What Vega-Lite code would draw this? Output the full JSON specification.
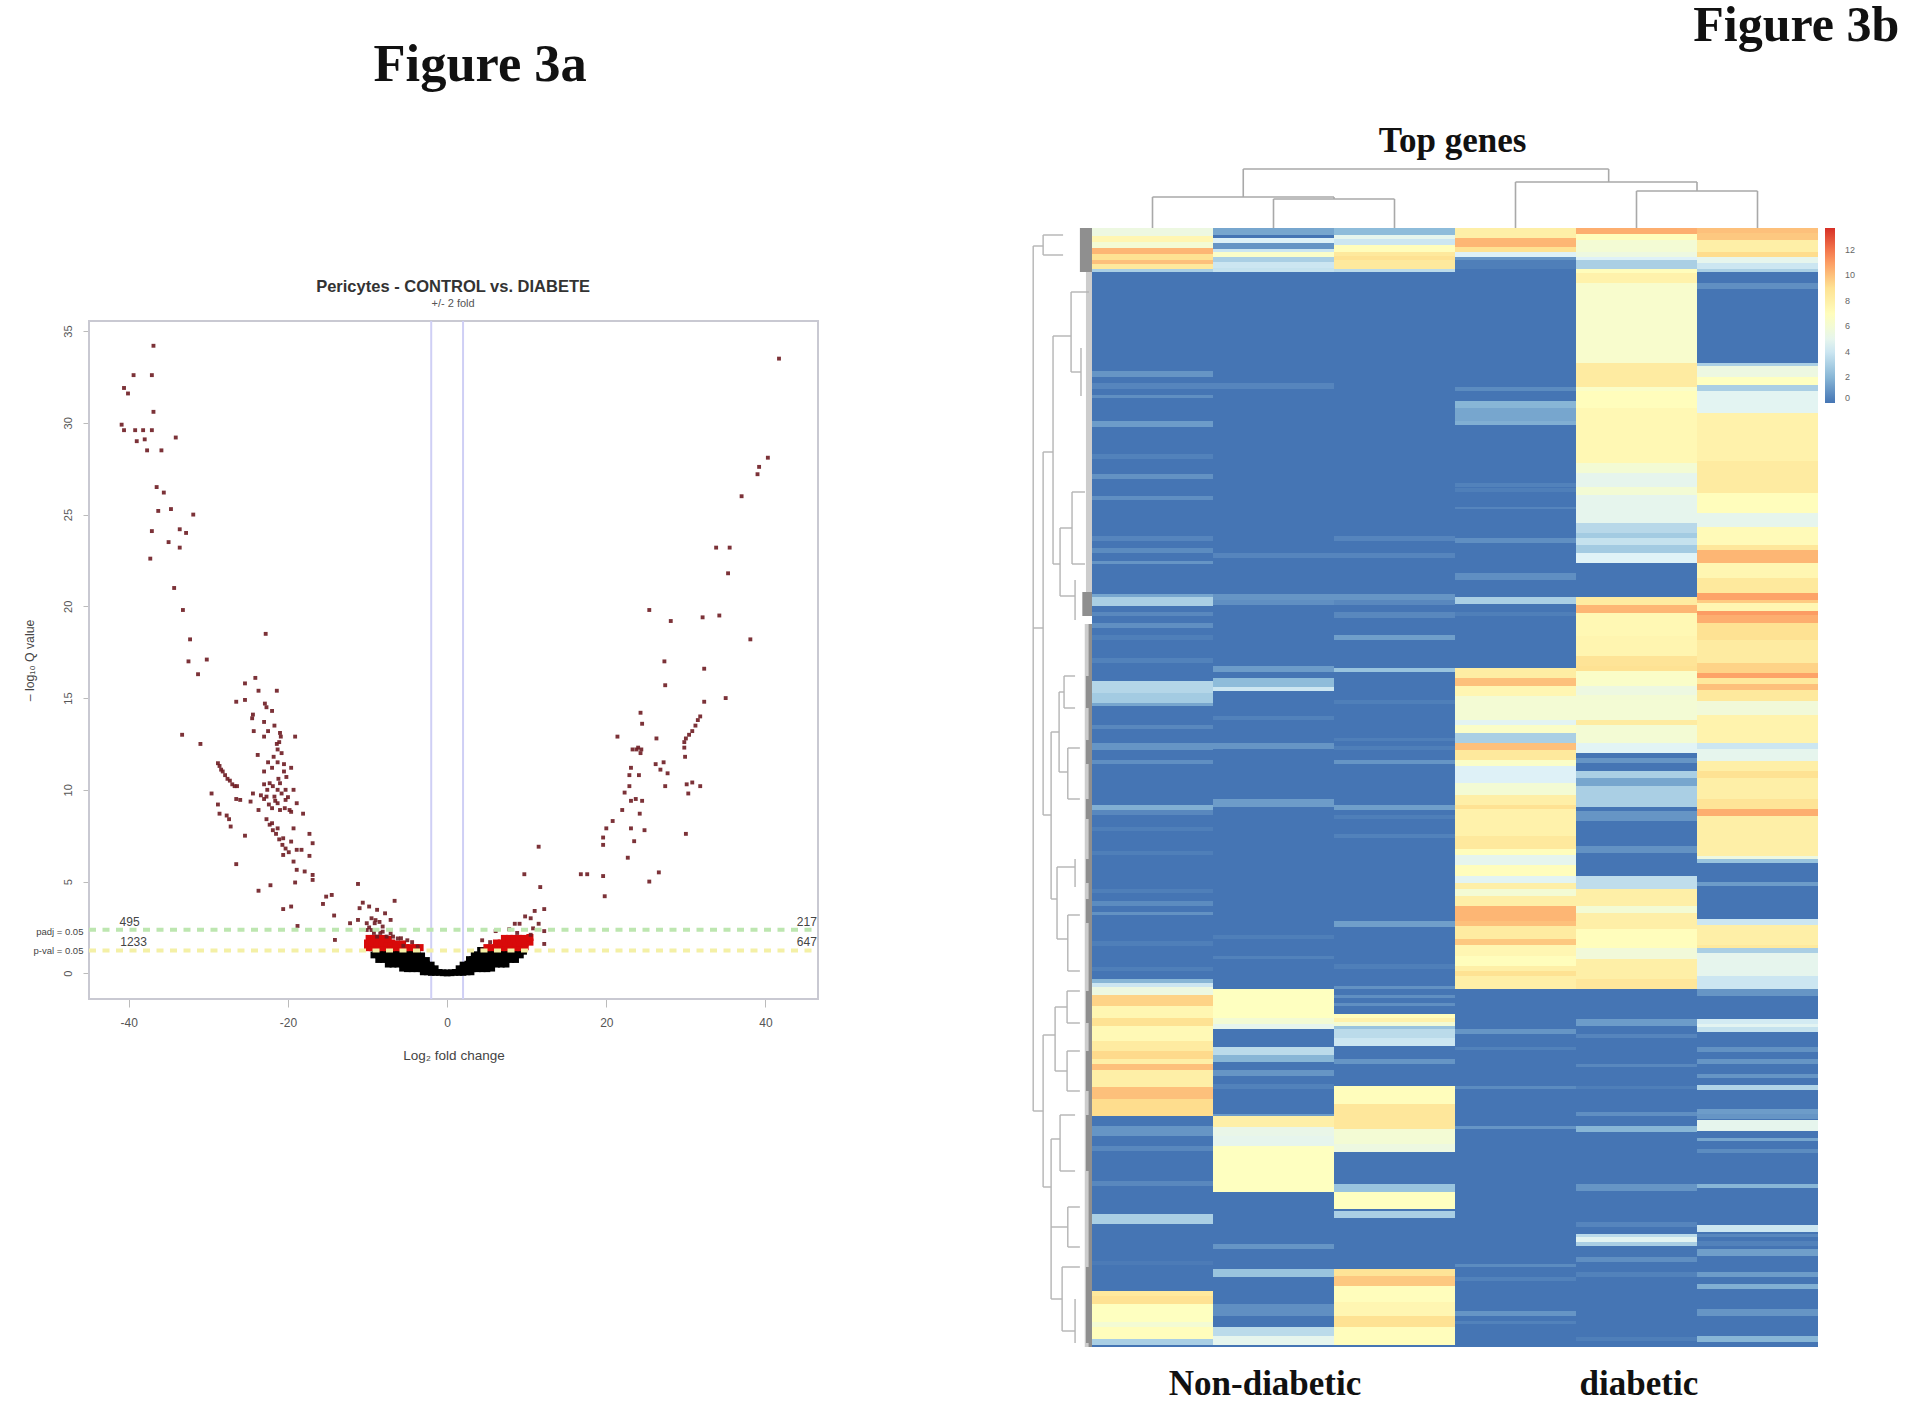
{"$schema":"https://vega.github.io/schema/vega-lite/v6.json","width":1920,"height":1405,"padding":0,"autosize":{"type":"none"},"background":"white","config":{"view":{"stroke":null},"font":"Liberation Sans"},
"datasets":{
"ns":[{"x":-9,"y":1.25},{"x":-8.4,"y":1.25},{"x":-7.8,"y":1.25},{"x":-7.2,"y":1.25},{"x":-6.6,"y":1.25},{"x":-6,"y":1.25},{"x":-5.4,"y":1.25},{"x":-4.8,"y":1.25},{"x":-4.2,"y":1.25},{"x":-3.8,"y":1.2},{"x":-9.2,"y":1},{"x":-8.6,"y":1},{"x":-8,"y":1},{"x":-7.4,"y":1},{"x":-6.8,"y":1},{"x":-6.2,"y":1},{"x":-5.6,"y":1},{"x":-5,"y":1},{"x":-4.4,"y":1},{"x":-3.8,"y":1},{"x":-3.2,"y":0.95},{"x":-8.6,"y":0.75},{"x":-8,"y":0.75},{"x":-7.4,"y":0.75},{"x":-6.8,"y":0.75},{"x":-6.2,"y":0.75},{"x":-5.6,"y":0.75},{"x":-5,"y":0.75},{"x":-4.4,"y":0.75},{"x":-3.8,"y":0.75},{"x":-3.2,"y":0.75},{"x":-2.6,"y":0.7},{"x":-7.4,"y":0.5},{"x":-6.8,"y":0.5},{"x":-6.2,"y":0.5},{"x":-5.6,"y":0.5},{"x":-5,"y":0.5},{"x":-4.4,"y":0.5},{"x":-3.8,"y":0.5},{"x":-3.2,"y":0.5},{"x":-2.6,"y":0.5},{"x":-2,"y":0.45},{"x":-5.6,"y":0.28},{"x":-5,"y":0.25},{"x":-4.4,"y":0.25},{"x":-3.8,"y":0.25},{"x":-3.2,"y":0.25},{"x":-2.6,"y":0.25},{"x":-2,"y":0.25},{"x":-1.5,"y":0.25},{"x":-3,"y":0.08},{"x":-2.5,"y":0.08},{"x":-2,"y":0.05},{"x":-1.5,"y":0.05},{"x":-1,"y":0.05},{"x":-0.5,"y":0.03},{"x":0,"y":0.02},{"x":0.5,"y":0.03},{"x":1,"y":0.05},{"x":1.5,"y":0.05},{"x":2,"y":0.05},{"x":2.5,"y":0.08},{"x":3,"y":0.08},{"x":1.5,"y":0.25},{"x":2,"y":0.25},{"x":2.6,"y":0.25},{"x":3.2,"y":0.25},{"x":3.8,"y":0.25},{"x":4.4,"y":0.25},{"x":5,"y":0.25},{"x":5.6,"y":0.28},{"x":2,"y":0.45},{"x":2.6,"y":0.5},{"x":3.2,"y":0.5},{"x":3.8,"y":0.5},{"x":4.4,"y":0.5},{"x":5,"y":0.5},{"x":5.6,"y":0.5},{"x":6.2,"y":0.5},{"x":6.8,"y":0.5},{"x":7.4,"y":0.5},{"x":2.8,"y":0.75},{"x":3.2,"y":0.75},{"x":3.8,"y":0.75},{"x":4.4,"y":0.75},{"x":5,"y":0.75},{"x":5.6,"y":0.75},{"x":6.2,"y":0.75},{"x":6.8,"y":0.75},{"x":7.4,"y":0.75},{"x":8,"y":0.75},{"x":8.6,"y":0.75},{"x":3.4,"y":1},{"x":3.8,"y":1},{"x":4.4,"y":1},{"x":5,"y":1},{"x":5.6,"y":1},{"x":6.2,"y":1},{"x":6.8,"y":1},{"x":7.4,"y":1},{"x":8,"y":1},{"x":8.6,"y":1},{"x":9.2,"y":1},{"x":4.2,"y":1.25},{"x":4.8,"y":1.25},{"x":5.4,"y":1.25},{"x":6,"y":1.25},{"x":6.6,"y":1.25},{"x":7.2,"y":1.25},{"x":7.8,"y":1.25},{"x":8.4,"y":1.25},{"x":9,"y":1.25},{"x":9.6,"y":1.2}],
"red":[{"x":-10,"y":1.4},{"x":-9.4,"y":1.4},{"x":-8.8,"y":1.4},{"x":-8.2,"y":1.4},{"x":-7.6,"y":1.4},{"x":-7,"y":1.4},{"x":-6.4,"y":1.4},{"x":-5.8,"y":1.4},{"x":-5.2,"y":1.4},{"x":-4.6,"y":1.4},{"x":-4,"y":1.4},{"x":-3.4,"y":1.4},{"x":-10,"y":1.65},{"x":-9.4,"y":1.65},{"x":-8.8,"y":1.65},{"x":-8.2,"y":1.65},{"x":-7.6,"y":1.65},{"x":-7,"y":1.65},{"x":-6.4,"y":1.6},{"x":-5.6,"y":1.6},{"x":-9.8,"y":1.9},{"x":-9.2,"y":1.9},{"x":-8.6,"y":1.9},{"x":-8,"y":1.9},{"x":-7.4,"y":1.85},{"x":5,"y":1.4},{"x":5.6,"y":1.4},{"x":6.2,"y":1.4},{"x":6.8,"y":1.4},{"x":7.4,"y":1.4},{"x":8,"y":1.4},{"x":8.6,"y":1.4},{"x":9.2,"y":1.4},{"x":9.8,"y":1.45},{"x":6.2,"y":1.65},{"x":6.8,"y":1.65},{"x":7.4,"y":1.65},{"x":8,"y":1.65},{"x":8.6,"y":1.65},{"x":9.2,"y":1.65},{"x":9.8,"y":1.65},{"x":10.4,"y":1.7},{"x":7.2,"y":1.9},{"x":7.8,"y":1.9},{"x":8.4,"y":1.9},{"x":9,"y":1.9},{"x":9.6,"y":1.9},{"x":10.4,"y":1.95}],
"sig":[{"x":-36.9,"y":34.2},{"x":-39.4,"y":32.6},{"x":-37.1,"y":32.6},{"x":-40.6,"y":31.9},{"x":-40.1,"y":31.6},{"x":-36.9,"y":30.6},{"x":-40.9,"y":29.9},{"x":-40.6,"y":29.6},{"x":-39.2,"y":29.6},{"x":-38.2,"y":29.6},{"x":-37.1,"y":29.6},{"x":-34.1,"y":29.2},{"x":-39,"y":29},{"x":-38,"y":29.1},{"x":-37.7,"y":28.5},{"x":-35.9,"y":28.5},{"x":-36.5,"y":26.5},{"x":-35.6,"y":26.2},{"x":-36.3,"y":25.2},{"x":-34.7,"y":25.3},{"x":-31.9,"y":25},{"x":-37.1,"y":24.1},{"x":-33.6,"y":24.2},{"x":-32.8,"y":24},{"x":-35,"y":23.5},{"x":-33.6,"y":23.2},{"x":-37.3,"y":22.6},{"x":-34.3,"y":21},{"x":-33.2,"y":19.8},{"x":-32.3,"y":18.2},{"x":-32.5,"y":17},{"x":-30.2,"y":17.1},{"x":-31.3,"y":16.3},{"x":-22.8,"y":18.5},{"x":-24.1,"y":16.1},{"x":-25.4,"y":15.8},{"x":-23.7,"y":15.4},{"x":-21.4,"y":15.4},{"x":-26.5,"y":14.8},{"x":-25.4,"y":14.9},{"x":-22.9,"y":14.7},{"x":-22.7,"y":14.5},{"x":-22,"y":14.3},{"x":-24.4,"y":14.1},{"x":-24.5,"y":13.9},{"x":-23,"y":13.7},{"x":-21.7,"y":13.5},{"x":-24.3,"y":13.2},{"x":-22.5,"y":13.2},{"x":-21,"y":13.1},{"x":-19.1,"y":12.9},{"x":-23,"y":12.9},{"x":-21.1,"y":12.6},{"x":-33.3,"y":13},{"x":-31,"y":12.5},{"x":-21.3,"y":12.2},{"x":-23.8,"y":11.9},{"x":-21.8,"y":11.8},{"x":-21.3,"y":11.5},{"x":-22,"y":11.2},{"x":-20.5,"y":11.4},{"x":-19.6,"y":11.2},{"x":-20.5,"y":11},{"x":-20.8,"y":12},{"x":-21.4,"y":12.5},{"x":-20.9,"y":12.9},{"x":-20.2,"y":10.7},{"x":-23,"y":11},{"x":-22.5,"y":11.5},{"x":-28.8,"y":11.45},{"x":-28.6,"y":11.3},{"x":-28.4,"y":11.1},{"x":-28.2,"y":11},{"x":-27.9,"y":10.8},{"x":-27.6,"y":10.6},{"x":-27.3,"y":10.5},{"x":-27,"y":10.3},{"x":-26.7,"y":10.2},{"x":-26.4,"y":10.2},{"x":-29.6,"y":9.8},{"x":-28.8,"y":9.2},{"x":-28.6,"y":8.7},{"x":-27.7,"y":8.6},{"x":-27.4,"y":8.4},{"x":-27.2,"y":8},{"x":-26.5,"y":9.5},{"x":-26,"y":9.45},{"x":-25.4,"y":7.5},{"x":-26.5,"y":5.95},{"x":-24.4,"y":9.8},{"x":-23.7,"y":8.9},{"x":-24.7,"y":9.36},{"x":-23,"y":10.3},{"x":-22.3,"y":10.36},{"x":-21,"y":10.36},{"x":-21.3,"y":10},{"x":-20.3,"y":10},{"x":-19.3,"y":10},{"x":-22.7,"y":9.63},{"x":-21.7,"y":9.63},{"x":-20.3,"y":9.45},{"x":-18.9,"y":9.27},{"x":-21.3,"y":9.27},{"x":-21,"y":8.9},{"x":-19.6,"y":8.8},{"x":-18.1,"y":8.7},{"x":-22,"y":8.18},{"x":-21.3,"y":7.9},{"x":-19.3,"y":7.9},{"x":-20.6,"y":7.36},{"x":-19.6,"y":7.18},{"x":-17.3,"y":7.6},{"x":-16.9,"y":7.09},{"x":-18.9,"y":6.73},{"x":-18.3,"y":6.73},{"x":-20.6,"y":6.45},{"x":-17.3,"y":6.4},{"x":-19.3,"y":6.09},{"x":-18.9,"y":5.64},{"x":-17.9,"y":5.55},{"x":-16.9,"y":5.36},{"x":-16.9,"y":5.09},{"x":-19.1,"y":4.95},{"x":-22.2,"y":4.8},{"x":-23.7,"y":4.5},{"x":-11.2,"y":4.87},{"x":-14.5,"y":4.27},{"x":-15.2,"y":4.18},{"x":-15.6,"y":3.78},{"x":-6.6,"y":3.95},{"x":-20.6,"y":3.5},{"x":-19.6,"y":3.64},{"x":-14.2,"y":3.15},{"x":-18.8,"y":2.58},{"x":-14.1,"y":1.82},{"x":-10.6,"y":3.85},{"x":-9.8,"y":3.64},{"x":-11,"y":3.55},{"x":-8.8,"y":3.46},{"x":-7.8,"y":3.27},{"x":-11.2,"y":2.91},{"x":-12.2,"y":2.73},{"x":-10.1,"y":2.73},{"x":-9.1,"y":2.73},{"x":-8.1,"y":2.55},{"x":-7.1,"y":2.91},{"x":-9.5,"y":2.36},{"x":-10.1,"y":2.36},{"x":-8.1,"y":2.27},{"x":-7.1,"y":2.18},{"x":-5.8,"y":1.91},{"x":-3.7,"y":1.46},{"x":-8.8,"y":2},{"x":-22.7,"y":8.4},{"x":-22.3,"y":8.1},{"x":-21.9,"y":7.8},{"x":-21.5,"y":7.6},{"x":-21.1,"y":7.3},{"x":-20.7,"y":7},{"x":-20.3,"y":6.8},{"x":-19.9,"y":6.6},{"x":-23,"y":9.5},{"x":-22.4,"y":9.2},{"x":-22,"y":9},{"x":-21.6,"y":9.4},{"x":-20.8,"y":9.8},{"x":-20,"y":9.6},{"x":-20.4,"y":9},{"x":-19.8,"y":8.9},{"x":-21.9,"y":10.2},{"x":-21.2,"y":10.6},{"x":-22.6,"y":10},{"x":-23.4,"y":9.7},{"x":-9.5,"y":3},{"x":-9,"y":2.9},{"x":-8.5,"y":2.8},{"x":-9.8,"y":2.5},{"x":-9.2,"y":2.2},{"x":-8.4,"y":2.2},{"x":-7.6,"y":2},{"x":-6.8,"y":2},{"x":-6.2,"y":1.9},{"x":-5,"y":1.8},{"x":-4.4,"y":1.7},{"x":-5.5,"y":1.5},{"x":41.7,"y":33.5},{"x":40.3,"y":28.1},{"x":39.2,"y":27.6},{"x":39,"y":27.2},{"x":37,"y":26},{"x":33.8,"y":23.2},{"x":35.5,"y":23.2},{"x":35.3,"y":21.8},{"x":25.4,"y":19.8},{"x":28.1,"y":19.2},{"x":32.1,"y":19.4},{"x":34.2,"y":19.5},{"x":38.1,"y":18.2},{"x":27.3,"y":17},{"x":32.3,"y":16.6},{"x":27.4,"y":15.7},{"x":35,"y":15},{"x":32.3,"y":14.8},{"x":24.3,"y":14.2},{"x":24.5,"y":13.6},{"x":31.8,"y":14},{"x":31.5,"y":13.8},{"x":31.2,"y":13.5},{"x":30.8,"y":13.2},{"x":30.4,"y":13},{"x":30,"y":12.8},{"x":29.8,"y":12.6},{"x":21.4,"y":12.9},{"x":26.3,"y":12.8},{"x":29.8,"y":12.3},{"x":29.9,"y":11.8},{"x":23.3,"y":12.2},{"x":24,"y":12.3},{"x":24.3,"y":12},{"x":24.4,"y":12.2},{"x":23.8,"y":12.2},{"x":26.2,"y":11.4},{"x":27.2,"y":11.5},{"x":23.1,"y":11.2},{"x":26.8,"y":11.1},{"x":27.7,"y":10.9},{"x":22.9,"y":10.8},{"x":24.1,"y":10.8},{"x":27.4,"y":10.2},{"x":30.1,"y":10.3},{"x":30.8,"y":10.4},{"x":31.8,"y":10.2},{"x":30.3,"y":9.8},{"x":22.9,"y":10.2},{"x":22.3,"y":9.85},{"x":23.1,"y":9.4},{"x":23.7,"y":9.5},{"x":24.5,"y":9.4},{"x":24.2,"y":8.7},{"x":22,"y":8.9},{"x":20.8,"y":8.3},{"x":20,"y":7.9},{"x":23.1,"y":7.9},{"x":24.8,"y":7.8},{"x":30,"y":7.6},{"x":19.6,"y":7.4},{"x":19.6,"y":7},{"x":23.5,"y":7.2},{"x":22.7,"y":6.3},{"x":26.6,"y":5.5},{"x":25.4,"y":5},{"x":19.6,"y":5.3},{"x":16.8,"y":5.4},{"x":17.6,"y":5.4},{"x":19.8,"y":4.2},{"x":11.5,"y":6.9},{"x":9.7,"y":5.4},{"x":11.7,"y":4.7},{"x":12.2,"y":3.5},{"x":11,"y":3.4},{"x":10.5,"y":3},{"x":9.8,"y":3.1},{"x":11.5,"y":2.7},{"x":8.5,"y":2.7},{"x":9.1,"y":2.7},{"x":12.2,"y":2.3},{"x":7.8,"y":2.4},{"x":10.8,"y":2.45},{"x":6.1,"y":2.3},{"x":8.8,"y":2.2},{"x":10.5,"y":2.1},{"x":12.2,"y":1.6},{"x":4.4,"y":1.8},{"x":5.4,"y":1.7},{"x":4.4,"y":1.3}],
"cells":[
{"c":0,"d":1,"a":0,"b":280,"v":0},{"c":1,"d":2,"a":0,"b":280,"v":0},{"c":2,"d":3,"a":0,"b":280,"v":0},{"c":3,"d":4,"a":0,"b":280,"v":0},{"c":4,"d":5,"a":0,"b":280,"v":0},{"c":5,"d":6,"a":0,"b":280,"v":0},
{"c":0,"d":1,"a":0,"b":2,"v":5.5},{"c":0,"d":1,"a":2,"b":3.5,"v":7.5},{"c":0,"d":1,"a":3.5,"b":5,"v":6},{"c":0,"d":1,"a":5,"b":6.5,"v":10.3},{"c":0,"d":1,"a":6.5,"b":8,"v":9},{"c":0,"d":1,"a":8,"b":9,"v":10},{"c":0,"d":1,"a":9,"b":10.2,"v":8.5},{"c":0,"d":1,"a":10.2,"b":11,"v":3},{"c":0,"d":1,"a":35.7,"b":37.3,"v":1},{"c":0,"d":1,"a":38.8,"b":40.3,"v":0.5},{"c":0,"d":1,"a":41.7,"b":42.6,"v":0.8},{"c":0,"d":1,"a":48.4,"b":49.7,"v":1.2},{"c":0,"d":1,"a":56.6,"b":57.8,"v":0.4},{"c":0,"d":1,"a":61.5,"b":62.8,"v":0.9},{"c":0,"d":1,"a":67,"b":68,"v":0.8},{"c":0,"d":1,"a":77,"b":78.2,"v":0.5},{"c":0,"d":1,"a":80,"b":81.3,"v":0.7},{"c":0,"d":1,"a":83.4,"b":84.2,"v":1},{"c":0,"d":1,"a":91.6,"b":92.3,"v":1.5},{"c":0,"d":1,"a":92.3,"b":94.7,"v":3},{"c":0,"d":1,"a":96,"b":97.2,"v":0.6},{"c":0,"d":1,"a":98.8,"b":100,"v":0.8},{"c":0,"d":1,"a":101.8,"b":103,"v":0.3},{"c":0,"d":1,"a":107.6,"b":108.8,"v":0.4},{"c":0,"d":1,"a":113.4,"b":116.3,"v":3.3},{"c":0,"d":1,"a":116.3,"b":118.8,"v":2.8},{"c":0,"d":1,"a":118.8,"b":119.7,"v":1.5},{"c":0,"d":1,"a":124.3,"b":125.3,"v":0.6},{"c":0,"d":1,"a":128.8,"b":130.7,"v":1},{"c":0,"d":1,"a":133,"b":134.2,"v":0.8},{"c":0,"d":1,"a":144.3,"b":145.7,"v":1.8},{"c":0,"d":1,"a":145.7,"b":147,"v":0.6},{"c":0,"d":1,"a":150,"b":150.9,"v":0.3},{"c":0,"d":1,"a":156,"b":156.8,"v":0.3},{"c":0,"d":1,"a":165.5,"b":166.3,"v":0.3},{"c":0,"d":1,"a":168.4,"b":169.7,"v":0.7},{"c":0,"d":1,"a":171.2,"b":172,"v":0.9},{"c":0,"d":1,"a":178.4,"b":179.6,"v":0.3},{"c":0,"d":1,"a":185,"b":186,"v":0.3},{"c":0,"d":1,"a":188,"b":189,"v":2},{"c":0,"d":1,"a":189,"b":189.8,"v":4},{"c":0,"d":1,"a":189.8,"b":191.8,"v":5.5},{"c":0,"d":1,"a":191.8,"b":194.7,"v":9.5},{"c":0,"d":1,"a":194.7,"b":197.6,"v":7.5},{"c":0,"d":1,"a":197.6,"b":199.7,"v":9},{"c":0,"d":1,"a":199.7,"b":203.4,"v":7.3},{"c":0,"d":1,"a":203.4,"b":205.9,"v":8.3},{"c":0,"d":1,"a":205.9,"b":208,"v":9.3},{"c":0,"d":1,"a":208,"b":209.3,"v":8},{"c":0,"d":1,"a":209.3,"b":210.7,"v":10},{"c":0,"d":1,"a":210.7,"b":215,"v":8},{"c":0,"d":1,"a":215,"b":218,"v":10},{"c":0,"d":1,"a":218,"b":222.2,"v":9.2},{"c":0,"d":1,"a":224.7,"b":227.2,"v":1},{"c":0,"d":1,"a":229.7,"b":230.9,"v":0.6},{"c":0,"d":1,"a":238.4,"b":239.8,"v":0.6},{"c":0,"d":1,"a":246.8,"b":249.3,"v":3},{"c":0,"d":1,"a":258.4,"b":259.6,"v":0.2},{"c":0,"d":1,"a":265.9,"b":267.2,"v":8.5},{"c":0,"d":1,"a":267.2,"b":269.3,"v":9},{"c":0,"d":1,"a":269.3,"b":273.8,"v":6.8},{"c":0,"d":1,"a":273.8,"b":275,"v":6},{"c":0,"d":1,"a":275,"b":278,"v":7},{"c":0,"d":1,"a":278,"b":279.4,"v":3},
{"c":1,"d":2,"a":0,"b":1.7,"v":1.5},{"c":1,"d":2,"a":2.5,"b":3.8,"v":4.5},{"c":1,"d":2,"a":3.8,"b":5.2,"v":1},{"c":1,"d":2,"a":5.2,"b":6,"v":4},{"c":1,"d":2,"a":6,"b":7.3,"v":6.5},{"c":1,"d":2,"a":7.3,"b":8.4,"v":3},{"c":1,"d":2,"a":8.4,"b":10,"v":4},{"c":1,"d":2,"a":10,"b":11,"v":3.8},{"c":1,"d":2,"a":38.8,"b":40.3,"v":0.5},{"c":1,"d":2,"a":81.3,"b":82.6,"v":0.5},{"c":1,"d":2,"a":91.6,"b":93,"v":1},{"c":1,"d":2,"a":93,"b":94.3,"v":0.8},{"c":1,"d":2,"a":109.7,"b":111.2,"v":1.2},{"c":1,"d":2,"a":112.6,"b":114.8,"v":2.2},{"c":1,"d":2,"a":114.8,"b":115.9,"v":4},{"c":1,"d":2,"a":122.2,"b":123,"v":0.4},{"c":1,"d":2,"a":128.8,"b":130.3,"v":1},{"c":1,"d":2,"a":142.8,"b":144.8,"v":1.2},{"c":1,"d":2,"a":176.8,"b":178,"v":0.3},{"c":1,"d":2,"a":182.2,"b":183,"v":0.4},{"c":1,"d":2,"a":190.3,"b":197.6,"v":6.8},{"c":1,"d":2,"a":197.6,"b":199.3,"v":6},{"c":1,"d":2,"a":199.3,"b":200.5,"v":5},{"c":1,"d":2,"a":205,"b":207,"v":3.5},{"c":1,"d":2,"a":207,"b":208.8,"v":2},{"c":1,"d":2,"a":210.7,"b":212.2,"v":1},{"c":1,"d":2,"a":214.3,"b":215.5,"v":0.4},{"c":1,"d":2,"a":221.8,"b":222.3,"v":1.2},{"c":1,"d":2,"a":222.3,"b":225,"v":8},{"c":1,"d":2,"a":225,"b":227.3,"v":5.2},{"c":1,"d":2,"a":227.3,"b":229.7,"v":5},{"c":1,"d":2,"a":229.7,"b":241.3,"v":6.8},{"c":1,"d":2,"a":254.3,"b":255.5,"v":1},{"c":1,"d":2,"a":260.5,"b":262.4,"v":2.5},{"c":1,"d":2,"a":269.3,"b":272.2,"v":0.8},{"c":1,"d":2,"a":275,"b":277.2,"v":3.5},{"c":1,"d":2,"a":277.2,"b":279.4,"v":5},
{"c":2,"d":3,"a":0,"b":1.7,"v":2.2},{"c":2,"d":3,"a":1.7,"b":2.8,"v":5},{"c":2,"d":3,"a":2.8,"b":4.2,"v":4},{"c":2,"d":3,"a":4.2,"b":6,"v":7},{"c":2,"d":3,"a":6,"b":7,"v":8.5},{"c":2,"d":3,"a":7,"b":8,"v":9},{"c":2,"d":3,"a":8,"b":10.2,"v":8.5},{"c":2,"d":3,"a":10.2,"b":11,"v":3.5},{"c":2,"d":3,"a":77,"b":78.2,"v":0.5},{"c":2,"d":3,"a":81.3,"b":82.6,"v":0.5},{"c":2,"d":3,"a":91.6,"b":93,"v":1},{"c":2,"d":3,"a":93,"b":94.3,"v":0.6},{"c":2,"d":3,"a":96,"b":97.5,"v":0.6},{"c":2,"d":3,"a":101.8,"b":103,"v":1.3},{"c":2,"d":3,"a":110,"b":111.2,"v":2.5},{"c":2,"d":3,"a":118,"b":119.2,"v":0.3},{"c":2,"d":3,"a":127.5,"b":128.4,"v":0.3},{"c":2,"d":3,"a":129.7,"b":130.5,"v":0.3},{"c":2,"d":3,"a":133.2,"b":134,"v":1},{"c":2,"d":3,"a":144.3,"b":145.7,"v":1.3},{"c":2,"d":3,"a":147,"b":148,"v":0.3},{"c":2,"d":3,"a":151.7,"b":152.6,"v":0.4},{"c":2,"d":3,"a":173.4,"b":174.8,"v":1.3},{"c":2,"d":3,"a":184.2,"b":185.5,"v":0.3},{"c":2,"d":3,"a":189.7,"b":190.5,"v":0.9},{"c":2,"d":3,"a":191.8,"b":192.6,"v":0.8},{"c":2,"d":3,"a":193.8,"b":194.7,"v":0.8},{"c":2,"d":3,"a":196.8,"b":197.6,"v":7},{"c":2,"d":3,"a":197.6,"b":198.8,"v":7.8},{"c":2,"d":3,"a":198.8,"b":199.7,"v":6},{"c":2,"d":3,"a":199.7,"b":200.5,"v":2.5},{"c":2,"d":3,"a":200.5,"b":202.6,"v":3.5},{"c":2,"d":3,"a":202.6,"b":204.7,"v":4},{"c":2,"d":3,"a":208,"b":209.3,"v":1},{"c":2,"d":3,"a":214.7,"b":219.3,"v":7},{"c":2,"d":3,"a":219.3,"b":225.5,"v":8.6},{"c":2,"d":3,"a":225.5,"b":229.3,"v":6},{"c":2,"d":3,"a":229.3,"b":231.3,"v":5.5},{"c":2,"d":3,"a":239.3,"b":241.3,"v":2.5},{"c":2,"d":3,"a":241.3,"b":245.5,"v":6.8},{"c":2,"d":3,"a":245.9,"b":247.8,"v":3},{"c":2,"d":3,"a":260.5,"b":262.2,"v":8.8},{"c":2,"d":3,"a":262.2,"b":264.7,"v":9.8},{"c":2,"d":3,"a":264.7,"b":268.8,"v":7},{"c":2,"d":3,"a":268.8,"b":272.2,"v":7.5},{"c":2,"d":3,"a":272.2,"b":275,"v":9},{"c":2,"d":3,"a":275,"b":279.4,"v":7},
{"c":3,"d":4,"a":0,"b":2.6,"v":8},{"c":3,"d":4,"a":2.6,"b":4.7,"v":10.3},{"c":3,"d":4,"a":4.7,"b":5.9,"v":9},{"c":3,"d":4,"a":5.9,"b":7.2,"v":4.5},{"c":3,"d":4,"a":7.2,"b":8,"v":1},{"c":3,"d":4,"a":8,"b":10.2,"v":0.3},{"c":3,"d":4,"a":39.7,"b":40.7,"v":0.7},{"c":3,"d":4,"a":43.4,"b":45,"v":2},{"c":3,"d":4,"a":45,"b":48.4,"v":1.5},{"c":3,"d":4,"a":48.4,"b":49.4,"v":1.8},{"c":3,"d":4,"a":63.8,"b":64.7,"v":0.4},{"c":3,"d":4,"a":65,"b":66,"v":0.3},{"c":3,"d":4,"a":69.7,"b":70.3,"v":0.5},{"c":3,"d":4,"a":77.6,"b":78.7,"v":0.8},{"c":3,"d":4,"a":86.3,"b":88,"v":0.8},{"c":3,"d":4,"a":92.3,"b":94,"v":3},{"c":3,"d":4,"a":96,"b":97.2,"v":0.3},{"c":3,"d":4,"a":110,"b":112.6,"v":8.2},{"c":3,"d":4,"a":112.6,"b":114.5,"v":10},{"c":3,"d":4,"a":114.5,"b":117.2,"v":7.5},{"c":3,"d":4,"a":117.2,"b":123,"v":6},{"c":3,"d":4,"a":123,"b":124.3,"v":4.8},{"c":3,"d":4,"a":124.3,"b":126.3,"v":6.5},{"c":3,"d":4,"a":126.3,"b":128.8,"v":3},{"c":3,"d":4,"a":128.8,"b":130.5,"v":10},{"c":3,"d":4,"a":130.5,"b":133,"v":8.5},{"c":3,"d":4,"a":133,"b":134.7,"v":6.5},{"c":3,"d":4,"a":134.7,"b":138.8,"v":4.5},{"c":3,"d":4,"a":138.8,"b":141.8,"v":6},{"c":3,"d":4,"a":141.8,"b":144.3,"v":8},{"c":3,"d":4,"a":144.3,"b":145.5,"v":9},{"c":3,"d":4,"a":145.5,"b":152.2,"v":7.8},{"c":3,"d":4,"a":152.2,"b":155.5,"v":8.5},{"c":3,"d":4,"a":155.5,"b":156.8,"v":7},{"c":3,"d":4,"a":156.8,"b":159.3,"v":5},{"c":3,"d":4,"a":159.3,"b":162.2,"v":7},{"c":3,"d":4,"a":162.2,"b":163.8,"v":4.8},{"c":3,"d":4,"a":163.8,"b":165.5,"v":8},{"c":3,"d":4,"a":165.5,"b":167.2,"v":6},{"c":3,"d":4,"a":167.2,"b":169.7,"v":8},{"c":3,"d":4,"a":169.7,"b":173.4,"v":10.3},{"c":3,"d":4,"a":173.4,"b":174.7,"v":10},{"c":3,"d":4,"a":174.7,"b":178,"v":8.3},{"c":3,"d":4,"a":178,"b":179.3,"v":9.8},{"c":3,"d":4,"a":179.3,"b":182.2,"v":7.5},{"c":3,"d":4,"a":182.2,"b":184.7,"v":7},{"c":3,"d":4,"a":184.7,"b":185.9,"v":8},{"c":3,"d":4,"a":185.9,"b":187.2,"v":9},{"c":3,"d":4,"a":187.2,"b":190.3,"v":8},{"c":3,"d":4,"a":200.5,"b":201.8,"v":1},{"c":3,"d":4,"a":205,"b":205.8,"v":0.4},{"c":3,"d":4,"a":214.7,"b":215.5,"v":0.7},{"c":3,"d":4,"a":224.7,"b":225.5,"v":1},{"c":3,"d":4,"a":259.3,"b":260.1,"v":0.7},{"c":3,"d":4,"a":262.6,"b":263.4,"v":0.4},{"c":3,"d":4,"a":270.9,"b":272.2,"v":1},{"c":3,"d":4,"a":273.4,"b":274.2,"v":0.4},
{"c":4,"d":5,"a":0,"b":1.5,"v":10.5},{"c":4,"d":5,"a":1.5,"b":3,"v":7},{"c":4,"d":5,"a":3,"b":5.9,"v":6},{"c":4,"d":5,"a":5.9,"b":7.2,"v":5.5},{"c":4,"d":5,"a":7.2,"b":8,"v":4.5},{"c":4,"d":5,"a":8,"b":10.2,"v":3},{"c":4,"d":5,"a":10.2,"b":11.3,"v":7},{"c":4,"d":5,"a":11.3,"b":13.8,"v":7.8},{"c":4,"d":5,"a":13.8,"b":33.8,"v":6.3},{"c":4,"d":5,"a":33.8,"b":39.7,"v":8.3},{"c":4,"d":5,"a":39.7,"b":40.9,"v":6.5},{"c":4,"d":5,"a":40.9,"b":45,"v":7},{"c":4,"d":5,"a":45,"b":58.8,"v":7.4},{"c":4,"d":5,"a":58.8,"b":61.3,"v":6},{"c":4,"d":5,"a":61.3,"b":64.7,"v":5},{"c":4,"d":5,"a":64.7,"b":66.8,"v":6},{"c":4,"d":5,"a":66.8,"b":73.8,"v":5},{"c":4,"d":5,"a":73.8,"b":76.3,"v":3.4},{"c":4,"d":5,"a":76.3,"b":77.6,"v":2.8},{"c":4,"d":5,"a":77.6,"b":79.3,"v":3.8},{"c":4,"d":5,"a":79.3,"b":81.3,"v":2.8},{"c":4,"d":5,"a":81.3,"b":83.8,"v":4.6},{"c":4,"d":5,"a":92.3,"b":94.3,"v":8.3},{"c":4,"d":5,"a":94.3,"b":96.3,"v":10.3},{"c":4,"d":5,"a":96.3,"b":102.2,"v":7.4},{"c":4,"d":5,"a":102.2,"b":107.2,"v":7.6},{"c":4,"d":5,"a":107.2,"b":109.7,"v":8.8},{"c":4,"d":5,"a":109.7,"b":110.9,"v":9},{"c":4,"d":5,"a":110.9,"b":114.7,"v":6.5},{"c":4,"d":5,"a":114.7,"b":116.8,"v":5.5},{"c":4,"d":5,"a":116.8,"b":123,"v":6},{"c":4,"d":5,"a":123,"b":124.3,"v":8.3},{"c":4,"d":5,"a":124.3,"b":128.8,"v":6},{"c":4,"d":5,"a":128.8,"b":131.3,"v":4.7},{"c":4,"d":5,"a":132.6,"b":133.8,"v":1},{"c":4,"d":5,"a":135.9,"b":137.6,"v":3},{"c":4,"d":5,"a":137.6,"b":139.7,"v":1.5},{"c":4,"d":5,"a":139.7,"b":145,"v":3},{"c":4,"d":5,"a":145.9,"b":148.4,"v":1},{"c":4,"d":5,"a":154.7,"b":156.3,"v":0.9},{"c":4,"d":5,"a":162.2,"b":165.3,"v":3.6},{"c":4,"d":5,"a":165.3,"b":169.7,"v":8},{"c":4,"d":5,"a":169.7,"b":171.3,"v":6},{"c":4,"d":5,"a":171.3,"b":175.5,"v":8},{"c":4,"d":5,"a":175.5,"b":180.1,"v":7},{"c":4,"d":5,"a":180.1,"b":183,"v":5.8},{"c":4,"d":5,"a":183,"b":188,"v":8},{"c":4,"d":5,"a":188,"b":190.3,"v":8.6},{"c":4,"d":5,"a":198,"b":199.8,"v":1.2},{"c":4,"d":5,"a":201.8,"b":202.8,"v":0.5},{"c":4,"d":5,"a":209.3,"b":210,"v":0.6},{"c":4,"d":5,"a":214.7,"b":215.5,"v":0.3},{"c":4,"d":5,"a":221.3,"b":222.3,"v":0.8},{"c":4,"d":5,"a":224.7,"b":226.2,"v":2},{"c":4,"d":5,"a":239.3,"b":240.9,"v":1},{"c":4,"d":5,"a":248.8,"b":250,"v":0.5},{"c":4,"d":5,"a":251.8,"b":252.6,"v":3.5},{"c":4,"d":5,"a":252.6,"b":253.8,"v":4.8},{"c":4,"d":5,"a":253.8,"b":254.7,"v":3},{"c":4,"d":5,"a":257.6,"b":258.8,"v":0.8},{"c":4,"d":5,"a":261.3,"b":262.6,"v":0.4},{"c":4,"d":5,"a":277.6,"b":278.6,"v":0.3},
{"c":5,"d":6,"a":0,"b":1.3,"v":10},{"c":5,"d":6,"a":1.3,"b":3,"v":9.8},{"c":5,"d":6,"a":3,"b":5.9,"v":8},{"c":5,"d":6,"a":5.9,"b":7.3,"v":9.2},{"c":5,"d":6,"a":7.3,"b":8.8,"v":5},{"c":5,"d":6,"a":8.8,"b":10.2,"v":4},{"c":5,"d":6,"a":10.2,"b":11,"v":3},{"c":5,"d":6,"a":13.8,"b":15.3,"v":0.8},{"c":5,"d":6,"a":33.7,"b":34.5,"v":3},{"c":5,"d":6,"a":34.5,"b":37.2,"v":5.5},{"c":5,"d":6,"a":37.2,"b":39.3,"v":6.8},{"c":5,"d":6,"a":39.3,"b":40.9,"v":3},{"c":5,"d":6,"a":40.9,"b":46.3,"v":4.8},{"c":5,"d":6,"a":46.3,"b":58.4,"v":7.8},{"c":5,"d":6,"a":58.4,"b":66.3,"v":8.3},{"c":5,"d":6,"a":66.3,"b":71.3,"v":7},{"c":5,"d":6,"a":71.3,"b":74.7,"v":5},{"c":5,"d":6,"a":74.7,"b":79.3,"v":7.2},{"c":5,"d":6,"a":79.3,"b":80.5,"v":8.6},{"c":5,"d":6,"a":80.5,"b":83.8,"v":10.3},{"c":5,"d":6,"a":83.8,"b":87.6,"v":7.5},{"c":5,"d":6,"a":87.6,"b":91.3,"v":8.5},{"c":5,"d":6,"a":91.3,"b":93,"v":10.8},{"c":5,"d":6,"a":93,"b":93.8,"v":9.7},{"c":5,"d":6,"a":93.8,"b":95.9,"v":7.5},{"c":5,"d":6,"a":95.9,"b":96.8,"v":11},{"c":5,"d":6,"a":96.8,"b":98.8,"v":10.5},{"c":5,"d":6,"a":98.8,"b":103,"v":9},{"c":5,"d":6,"a":103,"b":108.8,"v":8.3},{"c":5,"d":6,"a":108.8,"b":111.3,"v":9.5},{"c":5,"d":6,"a":111.3,"b":112.6,"v":10.8},{"c":5,"d":6,"a":112.6,"b":114.2,"v":8.5},{"c":5,"d":6,"a":114.2,"b":115.7,"v":10},{"c":5,"d":6,"a":115.7,"b":118.4,"v":8.5},{"c":5,"d":6,"a":118.4,"b":121.8,"v":5.8},{"c":5,"d":6,"a":121.8,"b":128.8,"v":7.7},{"c":5,"d":6,"a":128.8,"b":130.3,"v":4},{"c":5,"d":6,"a":130.3,"b":133.4,"v":5},{"c":5,"d":6,"a":133.4,"b":135.9,"v":8},{"c":5,"d":6,"a":135.9,"b":137.6,"v":9},{"c":5,"d":6,"a":137.6,"b":143,"v":8},{"c":5,"d":6,"a":143,"b":145.5,"v":8.8},{"c":5,"d":6,"a":145.5,"b":147.2,"v":10.5},{"c":5,"d":6,"a":147.2,"b":157.2,"v":8},{"c":5,"d":6,"a":157.2,"b":158,"v":5.5},{"c":5,"d":6,"a":158,"b":158.8,"v":2.5},{"c":5,"d":6,"a":163.7,"b":164.7,"v":1.2},{"c":5,"d":6,"a":173,"b":174.3,"v":4},{"c":5,"d":6,"a":174.3,"b":179.3,"v":8},{"c":5,"d":6,"a":179.3,"b":180.1,"v":8.5},{"c":5,"d":6,"a":180.1,"b":181.3,"v":3},{"c":5,"d":6,"a":181.3,"b":187.2,"v":5},{"c":5,"d":6,"a":187.2,"b":190.3,"v":4},{"c":5,"d":6,"a":190.3,"b":192.2,"v":1},{"c":5,"d":6,"a":198,"b":199.3,"v":4.2},{"c":5,"d":6,"a":199.3,"b":200,"v":4.8},{"c":5,"d":6,"a":200,"b":201.3,"v":3.8},{"c":5,"d":6,"a":205,"b":206.2,"v":0.9},{"c":5,"d":6,"a":208,"b":209.3,"v":1},{"c":5,"d":6,"a":211.8,"b":212.8,"v":1},{"c":5,"d":6,"a":214.5,"b":215.7,"v":3.2},{"c":5,"d":6,"a":220.5,"b":221.8,"v":1.2},{"c":5,"d":6,"a":221.8,"b":223,"v":1},{"c":5,"d":6,"a":223.2,"b":226,"v":5},{"c":5,"d":6,"a":227.6,"b":228.4,"v":1.5},{"c":5,"d":6,"a":230.5,"b":231.5,"v":0.7},{"c":5,"d":6,"a":239.3,"b":240.3,"v":2},{"c":5,"d":6,"a":249.5,"b":251.3,"v":4},{"c":5,"d":6,"a":251.8,"b":252.6,"v":0.6},{"c":5,"d":6,"a":253.4,"b":254.7,"v":0.4},{"c":5,"d":6,"a":255.5,"b":257.3,"v":1.3},{"c":5,"d":6,"a":261.3,"b":262.6,"v":1.2},{"c":5,"d":6,"a":264.3,"b":265.5,"v":1.8},{"c":5,"d":6,"a":270.5,"b":272.2,"v":1},{"c":5,"d":6,"a":277.3,"b":278.7,"v":2}
],
"topTree":[{"x":1.25,"x2":4.27,"y":-14.75,"y2":-14.75},{"x":1.25,"x2":1.25,"y":-14.75,"y2":-7.7},{"x":0.5,"x2":2,"y":-7.7,"y2":-7.7},{"x":0.5,"x2":0.5,"y":-7.7,"y2":0},{"x":2,"x2":2,"y":-7.7,"y2":-7.25},{"x":1.5,"x2":2.5,"y":-7.25,"y2":-7.25},{"x":1.5,"x2":1.5,"y":-7.25,"y2":0},{"x":2.5,"x2":2.5,"y":-7.25,"y2":0},{"x":4.27,"x2":4.27,"y":-14.75,"y2":-11.4},{"x":3.5,"x2":5,"y":-11.4,"y2":-11.4},{"x":3.5,"x2":3.5,"y":-11.4,"y2":0},{"x":5,"x2":5,"y":-11.4,"y2":-9.3},{"x":4.5,"x2":5.5,"y":-9.3,"y2":-9.3},{"x":4.5,"x2":4.5,"y":-9.3,"y2":0},{"x":5.5,"x2":5.5,"y":-9.3,"y2":0}],
"leftTree":[{"x":-0.486,"x2":-0.486,"y":4.5,"y2":221},{"x":-0.486,"x2":-0.404,"y":4.5,"y2":4.5},{"x":-0.404,"x2":-0.404,"y":1.75,"y2":6.75},{"x":-0.404,"x2":-0.239,"y":1.75,"y2":1.75},{"x":-0.404,"x2":-0.239,"y":6.75,"y2":6.75},{"x":-0.486,"x2":-0.404,"y":100,"y2":100},{"x":-0.404,"x2":-0.404,"y":56,"y2":147},{"x":-0.404,"x2":-0.322,"y":56,"y2":56},{"x":-0.322,"x2":-0.322,"y":27,"y2":84},{"x":-0.322,"x2":-0.173,"y":27,"y2":27},{"x":-0.173,"x2":-0.173,"y":16,"y2":36},{"x":-0.173,"x2":-0.025,"y":16,"y2":16},{"x":-0.173,"x2":-0.091,"y":36,"y2":36},{"x":-0.091,"x2":-0.091,"y":30,"y2":42},{"x":-0.322,"x2":-0.264,"y":84,"y2":84},{"x":-0.264,"x2":-0.264,"y":75,"y2":92},{"x":-0.264,"x2":-0.165,"y":75,"y2":75},{"x":-0.165,"x2":-0.165,"y":66,"y2":84},{"x":-0.165,"x2":-0.058,"y":66,"y2":66},{"x":-0.165,"x2":-0.058,"y":84,"y2":84},{"x":-0.264,"x2":-0.14,"y":92,"y2":92},{"x":-0.14,"x2":-0.14,"y":88,"y2":98},{"x":-0.404,"x2":-0.338,"y":147,"y2":147},{"x":-0.338,"x2":-0.338,"y":126,"y2":168},{"x":-0.338,"x2":-0.272,"y":126,"y2":126},{"x":-0.272,"x2":-0.272,"y":116,"y2":136},{"x":-0.272,"x2":-0.231,"y":116,"y2":116},{"x":-0.231,"x2":-0.231,"y":112,"y2":120},{"x":-0.231,"x2":-0.14,"y":112,"y2":112},{"x":-0.231,"x2":-0.14,"y":120,"y2":120},{"x":-0.272,"x2":-0.2,"y":136,"y2":136},{"x":-0.2,"x2":-0.2,"y":130,"y2":143},{"x":-0.2,"x2":-0.1,"y":130,"y2":130},{"x":-0.2,"x2":-0.1,"y":143,"y2":143},{"x":-0.338,"x2":-0.289,"y":168,"y2":168},{"x":-0.289,"x2":-0.289,"y":160,"y2":178},{"x":-0.289,"x2":-0.14,"y":160,"y2":160},{"x":-0.14,"x2":-0.14,"y":158,"y2":165},{"x":-0.289,"x2":-0.2,"y":178,"y2":178},{"x":-0.2,"x2":-0.2,"y":172,"y2":186},{"x":-0.2,"x2":-0.1,"y":172,"y2":172},{"x":-0.2,"x2":-0.1,"y":186,"y2":186},{"x":-0.486,"x2":-0.404,"y":221,"y2":221},{"x":-0.404,"x2":-0.404,"y":202,"y2":240},{"x":-0.404,"x2":-0.305,"y":202,"y2":202},{"x":-0.305,"x2":-0.305,"y":195,"y2":211},{"x":-0.305,"x2":-0.206,"y":195,"y2":195},{"x":-0.206,"x2":-0.206,"y":191,"y2":199},{"x":-0.206,"x2":-0.1,"y":191,"y2":191},{"x":-0.206,"x2":-0.1,"y":199,"y2":199},{"x":-0.305,"x2":-0.206,"y":211,"y2":211},{"x":-0.206,"x2":-0.206,"y":206,"y2":216},{"x":-0.206,"x2":-0.1,"y":206,"y2":206},{"x":-0.206,"x2":-0.1,"y":216,"y2":216},{"x":-0.404,"x2":-0.338,"y":240,"y2":240},{"x":-0.338,"x2":-0.338,"y":228,"y2":268},{"x":-0.338,"x2":-0.264,"y":228,"y2":228},{"x":-0.264,"x2":-0.264,"y":222,"y2":236},{"x":-0.264,"x2":-0.14,"y":222,"y2":222},{"x":-0.264,"x2":-0.14,"y":236,"y2":236},{"x":-0.338,"x2":-0.2,"y":250,"y2":250},{"x":-0.2,"x2":-0.2,"y":245,"y2":255},{"x":-0.2,"x2":-0.1,"y":245,"y2":245},{"x":-0.2,"x2":-0.1,"y":255,"y2":255},{"x":-0.338,"x2":-0.247,"y":268,"y2":268},{"x":-0.247,"x2":-0.247,"y":260,"y2":276},{"x":-0.247,"x2":-0.1,"y":260,"y2":260},{"x":-0.247,"x2":-0.14,"y":276,"y2":276},{"x":-0.14,"x2":-0.14,"y":268,"y2":279}],
"combDark":[{"x":-0.1,"x2":0,"y":0,"y2":11},{"x":-0.08,"x2":0,"y":91,"y2":97},{"x":-0.028,"x2":0,"y":99,"y2":280},{"x":-0.05,"x2":0,"y":112,"y2":120},{"x":-0.05,"x2":0,"y":128,"y2":134},{"x":-0.05,"x2":0,"y":143,"y2":148},{"x":-0.05,"x2":0,"y":158,"y2":164},{"x":-0.05,"x2":0,"y":168,"y2":174},{"x":-0.05,"x2":0,"y":191,"y2":199},{"x":-0.05,"x2":0,"y":206,"y2":216},{"x":-0.05,"x2":0,"y":222,"y2":236},{"x":-0.05,"x2":0,"y":260,"y2":279}],
"combLight":[{"x":-0.05,"x2":0,"y":11,"y2":91},{"x":-0.06,"x2":-0.02,"y":99,"y2":280}]
},
"layer":[
{"layer":[
{"data":{"values":[{"xa":-45,"xb":46.6,"ya":-1.4,"yb":35.55}]},"mark":{"type":"rect","fill":"transparent","stroke":"#c9c9d2","strokeWidth":2},"encoding":{"x":{"field":"xa","type":"quantitative","scale":{"domain":[-45,46.6],"range":[89,818],"nice":false,"zero":false},"axis":{"orient":"bottom","offset":-406,"values":[-40,-20,0,20,40],"labelExpr":"datum.value","domain":false,"grid":false,"title":"Log₂ fold change","titleFontSize":13.5,"titleFontWeight":"normal","titleColor":"#444","titlePadding":20,"labelFontSize":12,"labelColor":"#555","tickColor":"#bbb","tickSize":8,"labelPadding":10}},"x2":{"field":"xb"},"y":{"field":"ya","type":"quantitative","scale":{"domain":[-1.4,35.55],"range":[999,321],"nice":false,"zero":false},"axis":{"orient":"left","offset":-89,"values":[0,5,10,15,20,25,30,35],"domain":false,"grid":false,"title":"– log₁₀ Q value","titleFontSize":12.3,"titleFontWeight":"normal","titleColor":"#444","titlePadding":26,"labelFontSize":11,"labelColor":"#555","labelAngle":-90,"labelAlign":"center","labelBaseline":"bottom","tickColor":"#bbb","tickSize":6,"labelPadding":10}},"y2":{"field":"yb"}}},
{"data":{"values":[{"v":-2},{"v":2}]},"mark":{"type":"rule","color":"#cfcff5","strokeWidth":2},"encoding":{"x":{"field":"v","type":"quantitative"},"y":{"datum":-1.4},"y2":{"datum":35.55}}},
{"data":{"name":"ns"},"mark":{"type":"point","shape":"square","filled":true,"color":"#000000","size":46,"opacity":1},"encoding":{"x":{"field":"x","type":"quantitative"},"y":{"field":"y","type":"quantitative"}}},
{"data":{"name":"red"},"mark":{"type":"point","shape":"square","filled":true,"color":"#d80a0a","size":50,"opacity":1},"encoding":{"x":{"field":"x","type":"quantitative"},"y":{"field":"y","type":"quantitative"}}},
{"data":{"name":"sig"},"mark":{"type":"point","shape":"square","filled":true,"color":"#6e1c22","size":15,"opacity":0.9},"encoding":{"x":{"field":"x","type":"quantitative"},"y":{"field":"y","type":"quantitative"}}},
{"data":{"values":[{"v":2.37}]},"mark":{"type":"rule","color":"#bde6b0","strokeWidth":4,"strokeDash":[7,6.5]},"encoding":{"y":{"field":"v","type":"quantitative"},"x":{"datum":-45},"x2":{"datum":46.6}}},
{"data":{"values":[{"v":1.24}]},"mark":{"type":"rule","color":"#f4f0a6","strokeWidth":4,"strokeDash":[7,6.5]},"encoding":{"y":{"field":"v","type":"quantitative"},"x":{"datum":-45},"x2":{"datum":46.6}}},
{"data":{"values":[{"t":"495","x":-39.9,"y":2.82},{"t":"1233","x":-39.4,"y":1.69},{"t":"217","x":45.2,"y":2.82},{"t":"647","x":45.2,"y":1.69}]},"mark":{"type":"text","fontSize":12,"color":"#444"},"encoding":{"x":{"field":"x","type":"quantitative"},"y":{"field":"y","type":"quantitative"},"text":{"field":"t"}}},
{"data":{"values":[{"t":"padj = 0.05","x":-45.7,"y":2.27},{"t":"p-val = 0.05","x":-45.7,"y":1.19}]},"mark":{"type":"text","fontSize":9.5,"align":"right","color":"#444"},"encoding":{"x":{"field":"x","type":"quantitative"},"y":{"field":"y","type":"quantitative"},"text":{"field":"t"}}},
{"data":{"values":[{"t":"Pericytes - CONTROL vs. DIABETE","x":0.75,"y":37.4}]},"mark":{"type":"text","fontSize":16.5,"fontWeight":"bold","color":"#333"},"encoding":{"x":{"field":"x","type":"quantitative"},"y":{"field":"y","type":"quantitative"},"text":{"field":"t"}}},
{"data":{"values":[{"t":"+/- 2 fold","x":0.75,"y":36.5}]},"mark":{"type":"text","fontSize":11,"color":"#555"},"encoding":{"x":{"field":"x","type":"quantitative"},"y":{"field":"y","type":"quantitative"},"text":{"field":"t"}}},
{"data":{"values":[{"t":"Figure 3a","x":4.15,"y":49.5}]},"mark":{"type":"text","fontSize":52.5,"fontWeight":"bold","font":"Liberation Serif","color":"#111"},"encoding":{"x":{"field":"x","type":"quantitative"},"y":{"field":"y","type":"quantitative"},"text":{"field":"t"}}}
]},
{"layer":[
{"data":{"name":"cells"},"mark":{"type":"rect"},"encoding":{"x":{"field":"c","type":"quantitative","scale":{"domain":[0,6],"range":[1092,1818],"nice":false,"zero":false},"axis":null},"x2":{"field":"d"},"y":{"field":"a","type":"quantitative","scale":{"domain":[0,280],"range":[228,1347],"nice":false,"zero":false,"round":true},"axis":null},"y2":{"field":"b"},"color":{"field":"v","type":"quantitative","scale":{"domain":[0,2.28,4.57,6.85,9.13,11.42,13.7],"range":["#4575b4","#91bfdb","#e0f3f8","#ffffbf","#fee090","#fc8d59","#d73027"],"interpolate":"rgb"},"legend":{"orient":"none","legendX":1825,"legendY":228,"title":null,"type":"gradient","gradientLength":175,"gradientThickness":10,"values":[0,2,4,6,8,10,12],"labelFontSize":9,"labelColor":"#666","labelOffset":10,"padding":0}}}},
{"data":{"name":"combLight"},"mark":{"type":"rect","fill":"#cdcdcd"},"encoding":{"x":{"field":"x","type":"quantitative"},"x2":{"field":"x2"},"y":{"field":"y","type":"quantitative"},"y2":{"field":"y2"}}},
{"data":{"name":"combDark"},"mark":{"type":"rect","fill":"#8f8f8f"},"encoding":{"x":{"field":"x","type":"quantitative"},"x2":{"field":"x2"},"y":{"field":"y","type":"quantitative"},"y2":{"field":"y2"}}},
{"data":{"name":"topTree"},"mark":{"type":"rule","color":"#a9a9a9","strokeWidth":1.6},"encoding":{"x":{"field":"x","type":"quantitative"},"x2":{"field":"x2"},"y":{"field":"y","type":"quantitative"},"y2":{"field":"y2"}}},
{"data":{"name":"leftTree"},"mark":{"type":"rule","color":"#b4b4b4","strokeWidth":1.4},"encoding":{"x":{"field":"x","type":"quantitative"},"x2":{"field":"x2"},"y":{"field":"y","type":"quantitative"},"y2":{"field":"y2"}}},
{"data":{"values":[{"t":"Top genes","x":2.98,"y":-21.75}]},"mark":{"type":"text","fontSize":35,"fontWeight":"bold","font":"Liberation Serif","color":"#111"},"encoding":{"x":{"field":"x","type":"quantitative"},"y":{"field":"y","type":"quantitative"},"text":{"field":"t"}}},
{"data":{"values":[{"t":"Figure 3b","x":5.82,"y":-50.5}]},"mark":{"type":"text","fontSize":50,"fontWeight":"bold","font":"Liberation Serif","color":"#111"},"encoding":{"x":{"field":"x","type":"quantitative"},"y":{"field":"y","type":"quantitative"},"text":{"field":"t"}}},
{"data":{"values":[{"t":"Non-diabetic","x":1.43,"y":289.25},{"t":"diabetic","x":4.52,"y":289.25}]},"mark":{"type":"text","fontSize":35,"fontWeight":"bold","font":"Liberation Serif","color":"#111"},"encoding":{"x":{"field":"x","type":"quantitative"},"y":{"field":"y","type":"quantitative"},"text":{"field":"t"}}}
],"resolve":{"scale":{"color":"independent"}}}
],
"resolve":{"scale":{"x":"independent","y":"independent"}}}
